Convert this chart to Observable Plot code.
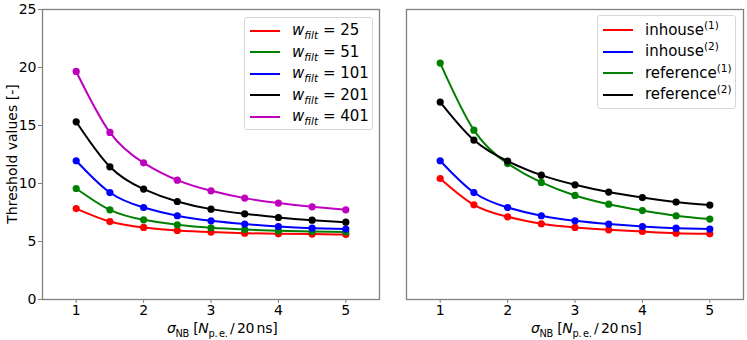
<!DOCTYPE html>
<html>
<head>
<meta charset="utf-8">
<script src="https://cdn.jsdelivr.net/npm/d3@7"></script>
<script src="https://cdn.jsdelivr.net/npm/@observablehq/plot@0.6"></script>
<style>
  html, body { margin: 0; padding: 0; background: white; }
  #wrap { position: relative; width: 747px; height: 340px; font-family: "DejaVu Sans", sans-serif; color: black; overflow: hidden; }
  .panel { position: absolute; top: 0; }
  .legend { position: absolute; background: rgba(255,255,255,0.85); border: 1px solid #d6d6d6; border-radius: 3px; }
  .row { position: absolute; left: 0; height: 20px; line-height: 20px; font-size: 14.5px; white-space: nowrap; }
  .swatch { display: inline-block; vertical-align: middle; width: 30px; height: 2px; margin-left: 5px; margin-right: 12px; }
  .lbl { position: absolute; font-size: 14px; white-space: nowrap; }
  .xt { letter-spacing: -0.3px; }
  sub, sup { font-size: 70%; line-height: 0; }
</style>
</head>
<body>
<div id="wrap"></div>
<script>
// ---- data ----
const sigma = [1, 1.5, 2, 2.5, 3, 3.5, 4, 4.5, 5];

// left panel: filter width series
const wfiltLabels = ["25", "51", "101", "201", "401"];
const wfiltColors = ["#ff0000", "#008000", "#0000ff", "#000000", "#bf00bf"];
const w25  = [7.84, 6.72, 6.21, 5.95, 5.81, 5.72, 5.66, 5.64, 5.60];
const w51  = [9.57, 7.73, 6.87, 6.44, 6.18, 6.03, 5.92, 5.86, 5.81];
const w101 = [11.96, 9.22, 7.93, 7.22, 6.78, 6.50, 6.29, 6.15, 6.07];
const w201 = [15.32, 11.44, 9.52, 8.45, 7.79, 7.39, 7.07, 6.84, 6.67];
const w401 = [19.66, 14.40, 11.78, 10.29, 9.37, 8.74, 8.31, 7.99, 7.73];
const leftSeries = [w25, w51, w101, w201, w401];

// right panel: inhouse vs reference
const rightNames = ["inhouse", "inhouse", "reference", "reference"];
const rightSup = ["(1)", "(2)", "(1)", "(2)"];
const rightColors = ["#ff0000", "#0000ff", "#008000", "#000000"];
const inhouse1   = [10.43, 8.16, 7.13, 6.53, 6.21, 6.01, 5.86, 5.72, 5.66];
const inhouse2   = [11.96, 9.22, 7.93, 7.22, 6.78, 6.50, 6.29, 6.15, 6.07];
const reference1 = [20.38, 14.60, 11.72, 10.09, 8.97, 8.22, 7.67, 7.22, 6.93];
const reference2 = [17.02, 13.74, 11.93, 10.72, 9.89, 9.26, 8.79, 8.40, 8.14];
const rightSeries = [inhouse1, inhouse2, reference1, reference2];

const yTicks = [0, 5, 10, 15, 20, 25];
const xTicks = [1, 2, 3, 4, 5];

// ---- build ----
const wrap = document.getElementById("wrap");

function tidy(seriesList) {
  const out = [];
  seriesList.forEach((vals, i) => vals.forEach((v, j) => out.push({x: sigma[j], y: v, s: i})));
  return out;
}

function panel({left, width, mL, mR, data, colors, showY}) {
  const idx = colors.map((_, i) => i);
  const marks = [
    Plot.axisX({ticks: xTicks, tickFormat: d => String(d), tickSize: 4, tickPadding: 2, label: null, fontSize: 14, stroke: "#808080"}),
    Plot.line(data, {x: "x", y: "y", z: "s", stroke: "s", curve: "natural", strokeWidth: 2}),
    Plot.dot(data, {x: "x", y: "y", fill: "s", r: 3.6}),
    Plot.frame({stroke: "#808080", strokeWidth: 1.3})
  ];
  if (showY) marks.unshift(Plot.axisY({ticks: yTicks, tickSize: 4, tickPadding: 2, label: null, fontSize: 14, stroke: "#808080"}));
  const chart = Plot.plot({
    width, height: 340,
    marginLeft: mL, marginRight: mR, marginTop: 9, marginBottom: 41,
    style: {fontFamily: "DejaVu Sans, sans-serif", fontSize: "14px", color: "black", background: "white", overflow: "visible"},
    x: {domain: [0.5, 5.5]},
    y: {domain: [0, 25], axis: showY ? undefined : null},
    color: {domain: idx, range: colors},
    marks
  });
  chart.classList.add("panel");
  chart.style.left = left + "px";
  wrap.appendChild(chart);
}

panel({left: 0, width: 385, mL: 42, mR: 6, data: tidy(leftSeries), colors: wfiltColors, showY: true});
panel({left: 385, width: 362, mL: 21, mR: 4, data: tidy(rightSeries), colors: rightColors, showY: false});

// axis titles
function label(html, x, y, rotate, cls) {
  const d = document.createElement("div");
  d.className = "lbl" + (cls ? " " + cls : "");
  d.innerHTML = html;
  wrap.appendChild(d);
  const w = d.offsetWidth, h = d.offsetHeight;
  d.style.left = (x - w / 2) + "px";
  d.style.top = (y - h / 2) + "px";
  if (rotate) d.style.transform = "rotate(-90deg)";
}
const xTitle = '<i>σ</i><sub>NB</sub> [<i>N</i><sub>p.\u2009e.</sub>\u2009/\u200920\u2009ns]';
label(xTitle, 222, 328, false, "xt");
label(xTitle, 586, 328, false, "xt");
label("Threshold values [-]", 11, 154, true);

// legends
function legend(box, items, fs) {
  const d = document.createElement("div");
  d.className = "legend";
  d.style.left = box.x + "px";
  d.style.top = box.y + "px";
  d.style.width = box.w + "px";
  d.style.height = box.h + "px";
  items.forEach((it, i) => {
    const r = document.createElement("div");
    r.className = "row";
    r.style.fontSize = fs + "px";
    r.style.top = (box.first - box.y - 10 + i * 21.5) + "px";
    r.innerHTML = `<span class="swatch" style="background:${it.color}"></span><span>${it.html}</span>`;
    d.appendChild(r);
  });
  wrap.appendChild(d);
}
legend({x: 244, y: 17, w: 127, h: 111, first: 29},
  wfiltLabels.map((l, i) => ({color: wfiltColors[i], html: `<i>w</i><sub><i>filt</i></sub>&nbsp;= ${l}`})), 15);
legend({x: 597, y: 15, w: 137, h: 92, first: 28.5},
  rightNames.map((n, i) => ({color: rightColors[i], html: `${n}<sup>${rightSup[i]}</sup>`})), 15);
</script>
</body>
</html>
